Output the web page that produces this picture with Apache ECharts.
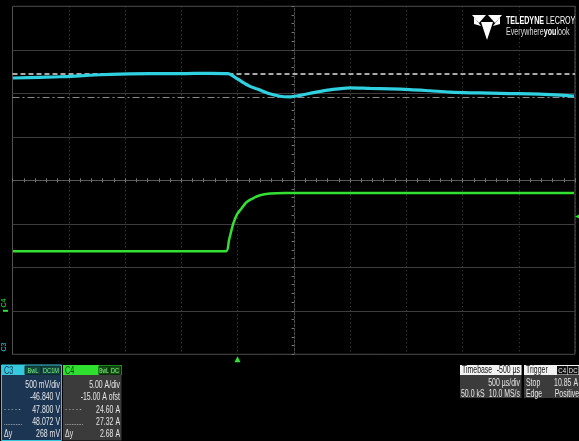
<!DOCTYPE html>
<html><head><meta charset="utf-8">
<script src="https://cdn.jsdelivr.net/npm/echarts@6/dist/echarts.min.js"></script>
<style>html,body{margin:0;padding:0;background:#000;}#c{width:579px;height:441px;}</style>
</head><body><div id="c"></div>
<script>
// time in µs relative to trigger; C3 in volts, C4 in amps
const c3Time = [-1996,-1756,-1578,-1400,-1222,-1044,-778,-511,-244,-84,-22,40,111,182,271,378,467,556,689,822,1000,1178,1356,1533,1711,1889,2067,2244,2422,2600,2778,2991];
const c3Volts = [48.016,48.024,48.030,48.041,48.053,48.061,48.066,48.066,48.070,48.066,48.024,47.972,47.920,47.886,47.840,47.806,47.800,47.817,47.851,47.880,47.903,47.897,47.892,47.883,47.869,47.854,47.846,47.842,47.837,47.834,47.825,47.809];
const c4Time = [-1996,-1500,-1000,-500,-102,-76,-37,-4,22,82,138,200,289,422,1000,2000,2991];
const c4Amps = [6.84,6.84,6.84,6.84,6.84,8.10,10.06,11.09,11.55,12.51,12.93,13.28,13.47,13.54,13.54,13.54,13.54];
const cursorC3 = {dashed: 48.072, dashDot: 47.800};
const c3Scale = {perDiv: 0.5, center: 46.84};
const c4Scale = {perDiv: 5, center: 15};
const timeRange = {min: -2000, max: 3000, perDiv: 500};
const triggerLevel = 10.85;
const c3Panel = ['500 mV/div','-46.840 V','47.800 V','48.072 V','268 mV'];
const c4Panel = ['5.00 A/div','-15.00 A ofst','24.60 A','27.32 A','2.68 A'];

const chart = echarts.init(document.getElementById('c'), null, {renderer:'canvas'});
const FONT = '"Liberation Sans",Arial,sans-serif';
const SX = 0.66;
const gridCol = '#3c3c3c';
function divAxisX(inside){return {type:'value',gridIndex:0,min:-5,max:5,interval:1,
  axisLine:{show:true,onZero:true,onZeroAxisIndex:0,lineStyle:{color:'#5a5a5a',width:1}},
  axisTick:{show:true,inside:inside,length:2,lineStyle:{color:'#777'}},
  minorTick:{show:true,splitNumber:5,length:2,lineStyle:{color:'#777'}},
  axisLabel:{show:false},splitLine:{show:false}};}
function divAxisY(inside,split){return {type:'value',gridIndex:0,min:-4,max:4,interval:1,
  axisLine:{show:true,onZero:true,onZeroAxisIndex:1,lineStyle:{color:'#4a4a4a',width:1,type:[2,2]}},
  axisTick:{show:true,inside:inside,length:2,lineStyle:{color:'#777'}},
  minorTick:{show:true,splitNumber:5,length:2,lineStyle:{color:'#777'}},
  axisLabel:{show:false},splitLine:{show:split,lineStyle:{color:gridCol,width:1}}};}

function txt(x,y,t,fill,align,size,weight,sx){return {type:'text',x:x,y:y,scaleX:sx||SX,silent:true,
  style:{text:t,fill:fill||'#e6e6e6',font:(weight||'normal')+' '+(size||10)+'px '+FONT,textAlign:align||'left',textVerticalAlign:'middle'}};}
function rect(x,y,w,h,fill,stroke){return {type:'rect',silent:true,shape:{x:x,y:y,width:w,height:h},style:{fill:fill,stroke:stroke||null,lineWidth:stroke?1:0}};}

const rowsY = [385,397.5,410,422.3,434.5];
const g = [];
// C3 panel
g.push(rect(1.5,365,60,75.5,'#1c3553','#35c8dc'));
g.push(rect(1.5,365,60,10,'#35c8dc'));
g.push(txt(4,370.5,'C3','#0d3550','left',11));
g.push(rect(25,366,16,8.5,'#13473f','#0d2a2a'));g.push(txt(33,370.5,'BwL','#7ef07e','center',8,'normal',0.7));
g.push(rect(41.5,366,19,8.5,'#13473f','#0d2a2a'));g.push(txt(51,370.5,'DC1M','#7ef07e','center',8,'normal',0.7));
c3Panel.forEach((t,i)=>g.push(txt(60,rowsY[i],t,'#e6e6e6','right',10.5)));
g.push(txt(4,rowsY[2],'- - - - -','#cfcfcf','left',9));
g.push(txt(4,rowsY[3],'...........','#cfcfcf','left',9));
g.push(txt(4,rowsY[4],'Δy','#e6e6e6','left',10.5));
// C4 panel
g.push(rect(63,365,58.5,75.5,'#3b3b3b'));
g.push(rect(63,365,58.5,10,'#2fe02f'));
g.push(txt(65,370.5,'C4','#0d4a0d','left',11));
g.push(rect(99,366,10,8.5,'#145214','#0b2a0b'));g.push(txt(104,370.5,'BwL','#8ff58f','center',8,'normal',0.6));
g.push(rect(109.5,366,11,8.5,'#145214','#0b2a0b'));g.push(txt(115,370.5,'DC','#8ff58f','center',8,'normal',0.7));
c4Panel.forEach((t,i)=>g.push(txt(120,rowsY[i],t,'#e6e6e6','right',10.5)));
g.push(txt(65,rowsY[2],'- - - - -','#cfcfcf','left',9));
g.push(txt(65,rowsY[3],'...........','#cfcfcf','left',9));
g.push(txt(65,rowsY[4],'Δy','#e6e6e6','left',10.5));
// Timebase
g.push(rect(460,365,61.5,33,'#3b3b3b'));
g.push(rect(460,365,61.5,10,'#f2f2f2'));
g.push(txt(462,370.5,'Timebase','#111','left',10.5));
g.push(txt(520,370.5,'-500 µs','#111','right',10.5));
g.push(txt(520,383,'500 µs/div','#e6e6e6','right',10.5));
g.push(txt(461,394,'50.0 kS','#e6e6e6','left',10.5));
g.push(txt(520,394,'10.0 MS/s','#e6e6e6','right',10.5));
// Trigger
g.push(rect(524,365,55,33,'#3b3b3b'));
g.push(rect(524,365,55,10,'#f2f2f2'));
g.push(txt(526,370.5,'Trigger','#111','left',10.5));
g.push(rect(557,366,10.5,8.5,'#111'));g.push(txt(562.2,370.5,'C4','#eee','center',8,'normal',0.75));
g.push(rect(568,366,10.5,8.5,'#111'));g.push(txt(573.2,370.5,'DC','#eee','center',8,'normal',0.75));
g.push(txt(526,383,'Stop','#e6e6e6','left',10.5));
g.push(txt(578,383,'10.85 A','#e6e6e6','right',10.5));
g.push(txt(526,394,'Edge','#e6e6e6','left',10.5));
g.push(txt(579,394,'Positive','#e6e6e6','right',10.5));
// Logo
g.push({type:'polygon',silent:true,shape:{points:[[472,15],[486,15],[479,23]]},style:{fill:'#fff'}});
g.push({type:'polygon',silent:true,shape:{points:[[488,15],[502,15],[495,23]]},style:{fill:'#fff'}});
g.push({type:'polygon',silent:true,shape:{points:[[481,22],[493,22],[487,40]]},style:{fill:'#fff'}});
g.push({type:'polygon',silent:true,shape:{points:[[474,17],[481,26],[474,24]]},style:{fill:'#fff'}});
g.push({type:'polygon',silent:true,shape:{points:[[500,17],[500,24],[493,26]]},style:{fill:'#fff'}});
g.push({type:'text',x:506,y:21,scaleX:0.62,silent:true,style:{text:'{b|TELEDYNE} LECROY',fill:'#fff',font:'11.5px '+FONT,textVerticalAlign:'middle',rich:{b:{fill:'#fff',font:'bold 11.5px '+FONT}}}});
g.push({type:'text',x:506,y:32,scaleX:0.68,silent:true,style:{text:'Everywhere{b|you}look',fill:'#ddd',font:'10.5px '+FONT,textVerticalAlign:'middle',rich:{b:{fill:'#fff',font:'bold 10.5px '+FONT}}}});
// channel labels on left
g.push({type:'text',x:4,y:303,rotation:Math.PI/2,silent:true,style:{text:'C4',fill:'#2fe02f',font:'7px '+FONT,textAlign:'center',textVerticalAlign:'middle'}});
g.push({type:'text',x:4,y:347,rotation:Math.PI/2,silent:true,style:{text:'C3',fill:'#35c8dc',font:'7px '+FONT,textAlign:'center',textVerticalAlign:'middle'}});

const option = {
  backgroundColor:'#000',
  animation:false,
  grid:{left:12.5,top:6.3,right:4,bottom:86.7,show:true,borderColor:'#555',borderWidth:1,backgroundColor:'#000'},
  xAxis:[
    {type:'value',gridIndex:0,min:timeRange.min,max:timeRange.max,interval:timeRange.perDiv,
     axisLine:{show:false,onZero:false},axisTick:{show:false},axisLabel:{show:false},
     splitLine:{show:true,lineStyle:{color:'#4a4a4a',type:[1,3],width:1}}},
    divAxisX(false),divAxisX(true)
  ],
  yAxis:[
    divAxisY(false,true),divAxisY(true,false),
    {type:'value',gridIndex:0,show:false,min:c3Scale.center-4*c3Scale.perDiv,max:c3Scale.center+4*c3Scale.perDiv,splitLine:{show:false}},
    {type:'value',gridIndex:0,show:false,min:c4Scale.center-4*c4Scale.perDiv,max:c4Scale.center+4*c4Scale.perDiv,splitLine:{show:false}}
  ],
  series:[
    {name:'C3',type:'line',xAxisIndex:0,yAxisIndex:2,data:c3Time.map((t,i)=>[t,c3Volts[i]]),
     showSymbol:false,smooth:0.3,lineStyle:{color:'#2fd0e0',width:3.2},z:5,
     markLine:{silent:true,symbol:'none',label:{show:false},data:[
       {yAxis:cursorC3.dashed,lineStyle:{color:'#e0e0e0',type:[5,3],width:1.5}},
       {yAxis:cursorC3.dashDot,lineStyle:{color:'#8a8a8a',type:[7,3,2,3],width:1.2}}]}},
    {name:'C4',type:'line',xAxisIndex:0,yAxisIndex:3,data:c4Time.map((t,i)=>[t,c4Amps[i]]),
     showSymbol:false,smooth:0.25,lineStyle:{color:'#33e033',width:2.5},z:5,
     markPoint:{silent:true,label:{show:false},data:[
       {coord:[0,c4Scale.center-4*c4Scale.perDiv],symbol:'triangle',symbolSize:[6,6],symbolOffset:[0,5],itemStyle:{color:'#33e033'}},
       {coord:[timeRange.max,triggerLevel],symbol:'triangle',symbolSize:[6,6],symbolRotate:90,symbolOffset:[3,0],itemStyle:{color:'#33e033'}},
       {coord:[timeRange.min,0],symbol:'rect',symbolSize:[5,2],symbolOffset:[-7,0],itemStyle:{color:'#33e033'}}
     ]}}
  ],
  graphic:g
};
chart.setOption(option);
</script></body></html>
